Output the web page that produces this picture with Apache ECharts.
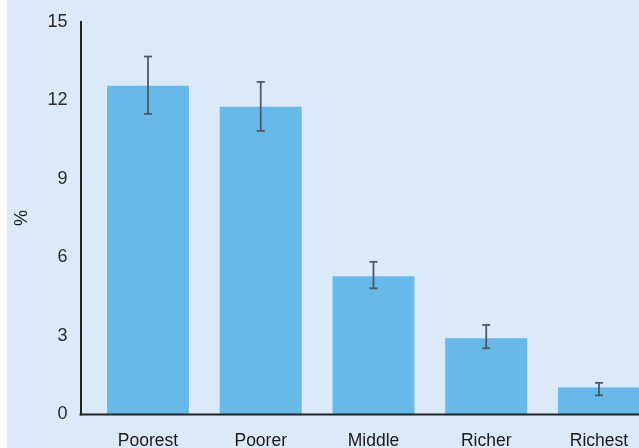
<!DOCTYPE html>
<html>
<head>
<meta charset="utf-8">
<script src="https://cdn.jsdelivr.net/npm/echarts@6/dist/echarts.min.js"></script>
<style>
  html, body { margin: 0; padding: 0; background: #ffffff; }
  #chart { position: absolute; left: 7px; top: 0; width: 632px; height: 448px; }
</style>
</head>
<body>
<div id="chart"></div>
<script>
// Wealth quintiles and the share (%) with its confidence interval
const quintiles = ['Poorest', 'Poorer', 'Middle', 'Richer', 'Richest'];
const shareValues = [12.55, 11.75, 5.28, 2.91, 1.03];
const ciLow = [11.48, 10.83, 4.82, 2.53, 0.73];
const ciHigh = [13.67, 12.70, 5.83, 3.42, 1.21];
const yTicks = { min: 0, max: 15, interval: 3 };

const FONT = "'Liberation Sans Narrow', 'Arial Narrow', 'Liberation Sans', sans-serif";
const chart = echarts.init(document.getElementById('chart'), null, { renderer: 'canvas' });

const GRID_LEFT = 84.6;
const option = {
  backgroundColor: '#dbe9f8',
  animation: false,
  grid: {
    left: GRID_LEFT, top: 21.7, width: 563.75, height: 392.8,
    containLabel: false,
    outerBoundsMode: 'none'
  },
  xAxis: {
    type: 'category',
    data: quintiles,
    axisLine: { show: false },
    axisTick: { show: false },
    axisLabel: { color: '#1a1a1a', fontFamily: FONT, fontSize: 17.5, margin: 18 }
  },
  yAxis: {
    type: 'value',
    min: yTicks.min, max: yTicks.max, interval: yTicks.interval,
    offset: 11,
    name: '%',
    nameLocation: 'middle',
    nameGap: 50,
    nameRotate: 90,
    nameTextStyle: { color: '#1a1a1a', fontFamily: FONT, fontSize: 18 },
    axisLine: { show: true, lineStyle: { color: '#222222', width: 2 } },
    axisTick: { show: false },
    splitLine: { show: false },
    axisLabel: { color: '#2a2a2a', fontFamily: FONT, fontSize: 18, margin: 13 }
  },
  series: [
    {
      type: 'bar',
      data: shareValues,
      barWidth: 82,
      itemStyle: { color: '#68b9e8' }
    },
    {
      type: 'custom',
      data: quintiles.map((q, i) => [i, ciLow[i], ciHigh[i]]),
      z: 5,
      renderItem: function (params, api) {
        const i = api.value(0);
        const lo = api.coord([i, api.value(1)]);
        const hi = api.coord([i, api.value(2)]);
        const half = 4;
        const style = { stroke: '#4f5963', lineWidth: 1.8 };
        return {
          type: 'group',
          children: [
            { type: 'line', shape: { x1: lo[0], y1: lo[1], x2: hi[0], y2: hi[1] }, style: style },
            { type: 'line', shape: { x1: hi[0] - half, y1: hi[1], x2: hi[0] + half, y2: hi[1] }, style: style },
            { type: 'line', shape: { x1: lo[0] - half, y1: lo[1], x2: lo[0] + half, y2: lo[1] }, style: style }
          ]
        };
      }
    }
  ]
};
chart.setOption(option);

// Baseline along value 0, running from the y axis line to the right edge
const zeroY = chart.convertToPixel({ yAxisIndex: 0 }, 0);
const axisX = GRID_LEFT - 11;
chart.setOption({
  graphic: [{
    type: 'line',
    z: 10,
    shape: { x1: axisX - 1, y1: zeroY, x2: 632, y2: zeroY },
    style: { stroke: '#222222', lineWidth: 2 }
  }]
});
</script>
</body>
</html>
